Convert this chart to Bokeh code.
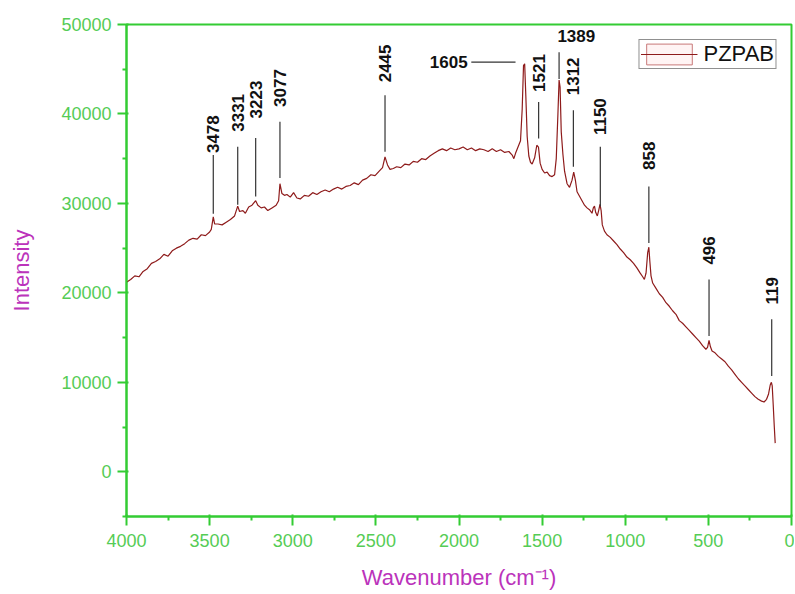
import math
from bokeh.plotting import figure
from bokeh.models import Range1d, ColumnDataSource, Legend, LegendItem, FixedTicker
from bokeh.core.properties import value
from bokeh.embed import file_html
from bokeh.resources import INLINE

# ---- spectrum (wavenumber, intensity) ----
wavenumber = [4000, 3975, 3950, 3925, 3900, 3875, 3850, 3825, 3800, 3775, 3750, 3725, 3700, 3675, 3650,
              3625, 3600, 3575, 3550, 3525, 3500, 3490, 3478, 3470, 3450, 3425, 3400, 3375, 3350, 3331,
              3320, 3300, 3285, 3265, 3245, 3223, 3210, 3190, 3170, 3150, 3125, 3100, 3085, 3077, 3065,
              3050, 3035, 3015, 2995, 2975, 2955, 2930, 2905, 2880, 2855, 2830, 2805, 2780, 2755, 2730,
              2705, 2680, 2655, 2630, 2605, 2580, 2555, 2530, 2505, 2480, 2460, 2445, 2430, 2415, 2395,
              2375, 2350, 2325, 2300, 2275, 2250, 2225, 2200, 2175, 2150, 2125, 2100, 2075, 2050, 2025,
              2000, 1975, 1950, 1925, 1900, 1875, 1850, 1825, 1800, 1775, 1750, 1725, 1700, 1680, 1670,
              1660, 1645, 1630, 1620, 1612, 1605, 1598, 1590, 1580, 1570, 1560, 1545, 1532, 1522, 1512,
              1500, 1485, 1470, 1455, 1440, 1425, 1415, 1405, 1398, 1392, 1385, 1375, 1365, 1350, 1335,
              1320, 1310, 1300, 1290, 1275, 1260, 1245, 1230, 1215, 1200, 1192, 1185, 1178, 1168, 1160,
              1152, 1145, 1138, 1125, 1110, 1090, 1070, 1050, 1030, 1010, 990, 970, 950, 930, 910,
              895, 885, 875, 865, 858, 852, 845, 835, 815, 795, 775, 755, 735, 715, 695,
              675, 655, 635, 615, 595, 575, 555, 535, 515, 505, 496, 488, 478, 460, 440,
              420, 400, 380, 360, 340, 320, 300, 280, 260, 240, 220, 200, 180, 165, 150,
              138, 128, 121, 116, 110, 104, 98]
intensity = [21200, 21500, 21900, 21800, 22400, 22700, 23300, 23500, 23800, 24300, 24100, 24700, 25000, 25200, 25500,
             25900, 26100, 26000, 26500, 26400, 26800, 27100, 28500, 27700, 27700, 27600, 27900, 28200, 28600, 29700,
             29100, 29200, 28900, 29600, 29800, 30300, 29800, 29500, 29600, 29200, 29500, 29800, 30300, 32200, 31100,
             30900, 31000, 30700, 31200, 30600, 30500, 30900, 30800, 31200, 31000, 31300, 31500, 31300, 31600, 31800,
             31600, 31900, 32000, 32300, 32100, 32600, 32800, 33200, 33100, 33600, 34000, 35200, 34300, 33800, 33900,
             34100, 34000, 34400, 34300, 34700, 34600, 35000, 34900, 35300, 35600, 35900, 36100, 35900, 36200, 36000,
             36100, 36300, 36000, 36200, 35900, 36100, 36000, 35800, 36100, 35800, 36000, 35700, 35800, 35400, 35000,
             35600, 36300, 37000, 40500, 45400, 45600, 42000, 37500, 35300, 34600, 34400, 35100, 36500, 36300, 34500,
             33800, 33400, 33500, 33100, 33000, 33200, 35000, 40000, 43800, 43000, 38000, 35500, 33600, 32200, 31800,
             32600, 33500, 32600, 31300, 30800, 30300, 29800, 29500, 29300, 28900, 29500, 29700, 29000, 28600, 29200,
             29900, 29200, 27600, 26900, 26500, 26200, 25800, 25400, 24900, 24500, 24000, 23700, 23300, 22800, 22200,
             21800, 21500, 22200, 24500, 25100, 23500, 21900, 21100, 20500, 19900, 19500, 18900, 18500, 18000, 17600,
             16900, 16600, 16200, 15800, 15400, 15000, 14600, 14100, 13700, 13900, 14700, 14000, 13500, 13300, 12900,
             12600, 12300, 11800, 11400, 10900, 10400, 10000, 9600, 9200, 8800, 8400, 8100, 7900, 7800, 8100,
             8700, 9700, 10000, 9600, 7500, 5200, 3200]

# ---- peak annotations ----
vlabels = ["3478", "3331", "3223", "3077", "2445", "1521", "1312", "1150", "858", "496", "119"]
vlabel_wn = [3478, 3331, 3223, 3077, 2445, 1521, 1312, 1150, 858, 496, 119]
vline_lo = [28840, 29840, 30770, 32850, 35780, 37270, 34110, 29660, 25580, 15180, 10720]
vline_hi = [35400, 36340, 37300, 39120, 42090, 41350, 40420, 36340, 31880, 21490, 17040]
vtext_y = [35630, 38010, 39500, 40790, 43540, 42460, 42090, 37640, 33740, 23160, 18710]

top_label = ["1389"]
top_wn = [1398]
top_line_lo = [43900]
top_line_hi = [46900]
top_text_x = [1408]
top_text_y = [48770]

side_label = ["1605"]
side_line_x0 = [1926]
side_line_x1 = [1660]
side_line_y = [45800]
side_text_x = [1948]

x_ticks = [4000, 3500, 3000, 2500, 2000, 1500, 1000, 500, 0]
y_ticks = [0, 10000, 20000, 30000, 40000, 50000]

GREEN = "#33CC33"
GREEN_TXT = "#55CC55"
PURPLE = "#BB33BB"
CURVE = "#8E1B1B"
FONT = "Liberation Sans"

p = figure(width=794, height=592, output_backend="svg", toolbar_location=None,
           x_range=Range1d(4000, 0), y_range=Range1d(-5000, 50000),
           min_border_left=126, min_border_right=3, min_border_top=24, min_border_bottom=74)
p.background_fill_color = "white"
p.border_fill_color = "white"
p.grid.visible = False
p.outline_line_color = GREEN
p.outline_line_width = 2

for ax in (p.xaxis[0], p.yaxis[0]):
    ax.axis_line_color = GREEN
    ax.axis_line_width = 2
    ax.major_tick_line_color = GREEN
    ax.minor_tick_line_color = GREEN
    ax.major_tick_line_width = 2
    ax.minor_tick_line_width = 2
    ax.major_tick_out = 9
    ax.major_tick_in = 2
    ax.minor_tick_out = 4
    ax.minor_tick_in = 0
    ax.major_label_text_color = GREEN_TXT
    ax.major_label_text_font = FONT
    ax.major_label_text_font_size = "18px"
    ax.axis_label_text_color = PURPLE
    ax.axis_label_text_font = FONT
    ax.axis_label_text_font_style = "normal"
    ax.axis_label_text_font_size = "22px"

p.xaxis[0].ticker = FixedTicker(ticks=x_ticks, minor_ticks=[v + 250 for v in x_ticks if v < 4000])
p.yaxis[0].ticker = FixedTicker(ticks=y_ticks, minor_ticks=[v - 5000 for v in y_ticks])
p.xaxis[0].major_label_standoff = 8
p.yaxis[0].major_label_standoff = 6
p.xaxis[0].axis_label = "Wavenumber (cm\u207b\u00b9)"
p.xaxis[0].axis_label_standoff = 15
p.yaxis[0].axis_label = "Intensity"
p.yaxis[0].axis_label_standoff = 24

src = ColumnDataSource(dict(x=wavenumber, y=intensity))
line_r = p.line("x", "y", source=src, line_color=CURVE, line_width=1.2)

# leader lines
p.segment(x0=vlabel_wn, y0=vline_lo, x1=vlabel_wn, y1=vline_hi, line_color="#333333", line_width=1.2)
p.segment(x0=top_wn, y0=top_line_lo, x1=top_wn, y1=top_line_hi, line_color="#333333", line_width=1.2)
p.segment(x0=side_line_x0, y0=side_line_y, x1=side_line_x1, y1=side_line_y, line_color="#333333", line_width=1.2)

# labels
p.text(x=vlabel_wn, y=vtext_y, text=vlabels, angle=math.pi / 2, text_align="left", text_baseline="middle",
       text_font=value(FONT), text_font_style="bold", text_font_size="17px", text_color="#111111")
p.text(x=top_text_x, y=top_text_y, text=top_label, text_align="left", text_baseline="middle",
       text_font=value(FONT), text_font_style="bold", text_font_size="17px", text_color="#111111")
p.text(x=side_text_x, y=side_line_y, text=side_label, text_align="right", text_baseline="middle",
       text_font=value(FONT), text_font_style="bold", text_font_size="17px", text_color="#111111")

# legend: box-style sample like the original (hidden degenerate quad at the first data point)
box_src = ColumnDataSource(dict(left=wavenumber[:1], right=wavenumber[:1],
                                top=intensity[:1], bottom=intensity[:1]))
legend_box = p.quad(left="left", right="right", top="top", bottom="bottom", source=box_src,
                    fill_color="#FFF4F4", line_color="#C87878", line_width=1, visible=False)
legend = Legend(items=[LegendItem(label="PZPAB", renderers=[legend_box, line_r])],
                location="top_right", margin=15, padding=1, spacing=0,
                glyph_width=57, glyph_height=26, label_standoff=6,
                label_text_font=FONT, label_text_font_size="22px", label_text_color="#111111",
                border_line_color="#222222", border_line_width=1, background_fill_alpha=1.0)
p.add_layout(legend)

open("out.html", "w").write(file_html(p, INLINE))
